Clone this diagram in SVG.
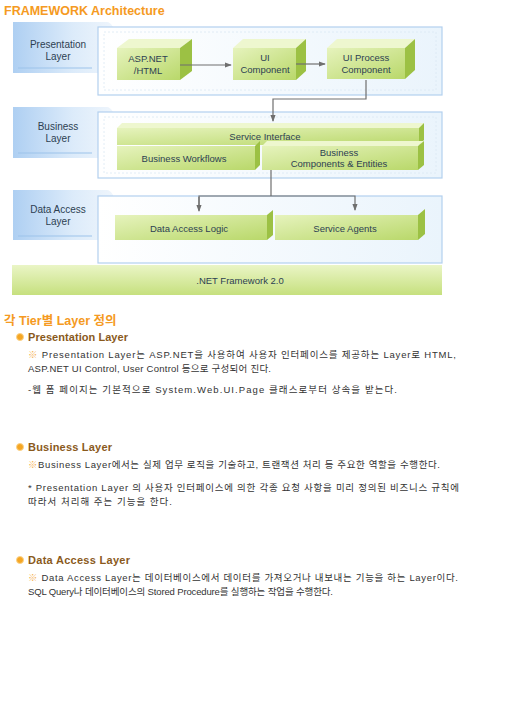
<svg xmlns="http://www.w3.org/2000/svg" width="520" height="703" viewBox="0 0 520 703">
<defs>
<linearGradient id="tab" x1="0" y1="0" x2="1" y2="0"><stop offset="0" stop-color="#aecff2"/><stop offset="0.6" stop-color="#dcebfa"/><stop offset="1" stop-color="#eef5fc"/></linearGradient>
<linearGradient id="front" x1="0" y1="0" x2="1" y2="1"><stop offset="0" stop-color="#e6f3bd"/><stop offset="1" stop-color="#b9d86a"/></linearGradient>
<linearGradient id="bar" x1="0" y1="0" x2="0" y2="1"><stop offset="0" stop-color="#eaf5c6"/><stop offset="1" stop-color="#c6e07e"/></linearGradient>
<linearGradient id="panel" x1="0" y1="0" x2="1" y2="0"><stop offset="0" stop-color="#ffffff"/><stop offset="1" stop-color="#eaf4fc"/></linearGradient>
<marker id="ah" viewBox="0 0 8 8" refX="7" refY="4" markerWidth="6" markerHeight="6" orient="auto"><path d="M0,1 L8,4 L0,7 z" fill="#6f6f6f"/></marker>
</defs>
<style>
.tab{fill:url(#tab);}
.panel{fill:url(#panel);stroke:#b3d0ee;stroke-width:1.2;}
.inner{fill:none;stroke:#dbe8f4;stroke-width:0.8;stroke-dasharray:2 2;}
.front{fill:url(#front);}
.top{fill:#eef7cf;}
.side{fill:#9cc144;}
.lbl{font-family:"Liberation Sans","DejaVu Sans",sans-serif;font-size:9.5px;fill:#2d3f52;text-anchor:middle;}
.tabl{font-family:"Liberation Sans","DejaVu Sans",sans-serif;font-size:10px;fill:#2d3f52;text-anchor:middle;}
.conn{fill:none;stroke:#6f6f6f;stroke-width:1.2;}
.h1{font-family:"Liberation Sans","Noto Sans CJK KR",sans-serif;font-size:12.5px;font-weight:bold;fill:#f59a22;}
.h2{font-family:"Liberation Sans","Noto Sans CJK KR",sans-serif;font-size:11px;font-weight:bold;fill:#8a5a1c;}
.body{font-family:"Liberation Sans","Noto Sans CJK KR",sans-serif;font-size:9.5px;fill:#333333;}
.star{fill:#f5b35a;}
.dot{fill:#f5a623;stroke:#fbd38a;stroke-width:1;}
</style>
<rect width="520" height="703" fill="#ffffff"/>
<text x="4" y="15" class="h1">FRAMEWORK Architecture</text>

<g id="presentation-layer">
<path class="tab" d="M13,22 L107,22 Q110,22 113,27 L113,73 L13,73 Z"/>
<line x1="18" y1="68" x2="92" y2="68" stroke="#9cc3ea" stroke-width="1"/>
<text x="58" y="48" class="tabl">Presentation</text>
<text x="58" y="60" class="tabl">Layer</text>
<rect class="panel" x="98" y="27" width="344" height="68"/>
<rect class="inner" x="104" y="32" width="332" height="58"/>
</g>
<g id="business-layer">
<path class="tab" d="M13,107 L107,107 Q110,107 113,112 L113,158 L13,158 Z"/>
<line x1="18" y1="153" x2="92" y2="153" stroke="#9cc3ea" stroke-width="1"/>
<text x="58" y="130" class="tabl">Business</text>
<text x="58" y="142" class="tabl">Layer</text>
<rect class="panel" x="98" y="112" width="344" height="66"/>
<rect class="inner" x="104" y="117" width="332" height="56"/>
</g>
<g id="data-access-layer">
<path class="tab" d="M13,190 L107,190 Q110,190 113,195 L113,240 L13,240 Z"/>
<line x1="18" y1="236" x2="92" y2="236" stroke="#9cc3ea" stroke-width="1"/>
<text x="58" y="213" class="tabl">Data Access</text>
<text x="58" y="225" class="tabl">Layer</text>
<rect class="panel" x="98" y="196" width="344" height="67"/>
</g>

<g id="asp-net-html">
<polygon class="top" points="117,48 129,39 192,39 180,48"/>
<polygon class="side" points="180,48 192,39 192,71 180,80"/>
<rect class="front" x="117" y="48" width="63" height="32"/>
<text x="148" y="62" class="lbl">ASP.NET</text>
<text x="148" y="74" class="lbl">/HTML</text>
</g>
<g id="ui-component">
<polygon class="top" points="233,48 243,39 306,39 296,48"/>
<polygon class="side" points="296,48 306,39 306,71 296,80"/>
<rect class="front" x="233" y="48" width="63" height="32"/>
<text x="265" y="61" class="lbl">UI</text>
<text x="265" y="73" class="lbl">Component</text>
</g>
<g id="ui-process-component">
<polygon class="top" points="327,48 337,39 415,39 405,48"/>
<polygon class="side" points="405,48 415,39 415,70 405,79"/>
<rect class="front" x="327" y="48" width="78" height="31"/>
<text x="366" y="61" class="lbl">UI Process</text>
<text x="366" y="73" class="lbl">Component</text>
</g>
<g id="service-interface">
<polygon class="top" points="117,128 122,123 424,123 419,128"/>
<polygon class="side" points="419,128 424,123 424,140 419,145"/>
<rect class="front" x="117" y="128" width="302" height="17"/>
<text x="265" y="140" class="lbl">Service Interface</text>
</g>
<g id="business-workflows">
<polygon class="side" points="255,146 260,141 260,165 255,170"/>
<rect class="front" x="117" y="146" width="138" height="24"/>
<text x="184" y="162" class="lbl">Business Workflows</text>
</g>
<g id="business-components-entities">
<polygon class="top" points="262,146 267,141 424,141 418,146"/>
<polygon class="side" points="418,146 424,141 424,165 418,170"/>
<rect class="front" x="262" y="146" width="156" height="24"/>
<text x="339" y="156" class="lbl">Business</text>
<text x="339" y="167" class="lbl">Components &amp; Entities</text>
</g>
<g id="data-access-logic">
<polygon class="side" points="267,215 273,210 273,235 267,240"/>
<rect class="front" x="115" y="215" width="152" height="25"/>
<text x="189" y="232" class="lbl">Data Access Logic</text>
</g>
<g id="service-agents">
<polygon class="side" points="418,215 425,209 425,234 418,240"/>
<rect class="front" x="275" y="215" width="143" height="25"/>
<text x="345" y="232" class="lbl">Service Agents</text>
</g>
<g id="net-framework">
<rect x="12" y="265" width="430" height="30" fill="url(#bar)"/>
<text x="240" y="284" class="lbl">.NET Framework 2.0</text>
</g>

<g id="connectors">
<line class="conn" x1="180" y1="65" x2="231" y2="65" marker-end="url(#ah)"/>
<line class="conn" x1="296" y1="64" x2="325" y2="64" marker-end="url(#ah)"/>
<polyline class="conn" points="366,80 366,99 273,99 273,121" marker-end="url(#ah)"/>
<line class="conn" x1="271" y1="170" x2="271" y2="196"/>
<polyline class="conn" points="199,210 199,196 355,196 355,210" marker-end="url(#ah)"/>
<line class="conn" x1="199" y1="197" x2="199" y2="211" marker-end="url(#ah)"/>
</g>

<text x="4" y="325" class="h1">각 Tier별 Layer 정의</text>
<circle class="dot" cx="20" cy="337" r="3.5"/>
<text x="28" y="341" class="h2" textLength="100" lengthAdjust="spacing">Presentation Layer</text>
<text x="28" y="358" class="body" textLength="428" lengthAdjust="spacing"><tspan class="star">※</tspan> Presentation Layer는 ASP.NET을 사용하여 사용자 인터페이스를 제공하는 Layer로 HTML,</text>
<text x="28" y="372" class="body" textLength="243" lengthAdjust="spacing">ASP.NET UI Control, User Control 등으로 구성되어 진다.</text>
<text x="28" y="393" class="body" textLength="369" lengthAdjust="spacing">-웹 폼 페이지는 기본적으로 System.Web.UI.Page 클래스로부터 상속을 받는다.</text>

<circle class="dot" cx="20" cy="447" r="3.5"/>
<text x="28" y="451" class="h2" textLength="84" lengthAdjust="spacing">Business Layer</text>
<text x="28" y="468" class="body" textLength="412" lengthAdjust="spacing"><tspan class="star">※</tspan>Business Layer에서는 실제 업무 로직을 기술하고, 트랜잭션 처리 등 주요한 역할을 수행한다.</text>
<text x="28" y="491" class="body" textLength="431" lengthAdjust="spacing">* Presentation Layer 의 사용자 인터페이스에 의한 각종 요청 사항을 미리 정의된 비즈니스 규칙에</text>
<text x="28" y="505" class="body" textLength="144" lengthAdjust="spacing">따라서 처리해 주는 기능을 한다.</text>

<circle class="dot" cx="20" cy="560" r="3.5"/>
<text x="28" y="564" class="h2" textLength="102" lengthAdjust="spacing">Data Access Layer</text>
<text x="28" y="581" class="body" textLength="430" lengthAdjust="spacing"><tspan class="star">※</tspan> Data Access Layer는 데이터베이스에서 데이터를 가져오거나 내보내는 기능을 하는 Layer이다.</text>
<text x="28" y="595" class="body" textLength="305" lengthAdjust="spacing">SQL Query나 데이터베이스의 Stored Procedure를 실행하는 작업을 수행한다.</text>
</svg>
